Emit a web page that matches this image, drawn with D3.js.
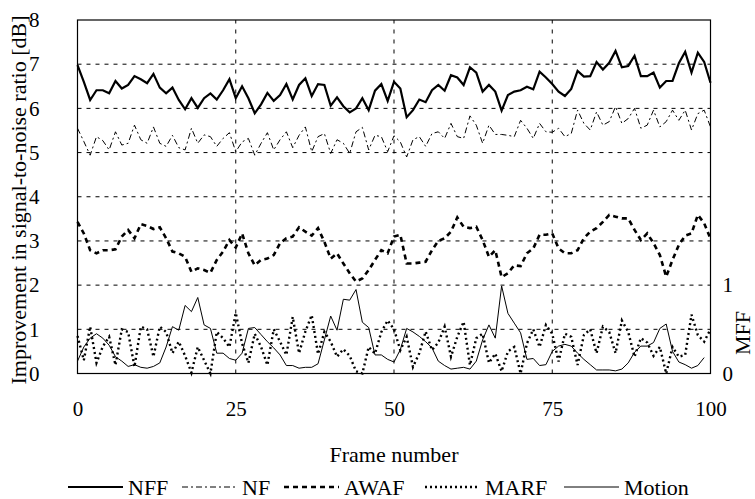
<!DOCTYPE html>
<html>
<head>
<meta charset="utf-8">
<script src="https://cdn.jsdelivr.net/npm/d3@7"></script>
<style>
  body { margin: 0; background: #fff; }
  svg, svg text { font-family: 'Liberation Serif', 'Times New Roman', Times, serif; }
</style>
</head>
<body>
<svg id="chart" width="755" height="499"></svg>
<script>
// values, one per frame (0..100)
const nff = [6.98, 6.60, 6.19, 6.41, 6.41, 6.34, 6.62, 6.45, 6.53, 6.73,
  6.66, 6.57, 6.78, 6.47, 6.34, 6.47, 6.19, 5.98, 6.23, 6.01,
  6.23, 6.34, 6.20, 6.41, 6.66, 6.23, 6.50, 6.23, 5.89, 6.09,
  6.35, 6.17, 6.30, 6.55, 6.20, 6.53, 6.68, 6.28, 6.55, 6.53,
  6.06, 6.25, 6.05, 5.91, 6.00, 6.23, 5.96, 6.40, 6.55, 6.17,
  6.60, 6.45, 5.80, 5.96, 6.20, 6.14, 6.41, 6.53, 6.40, 6.75,
  6.70, 6.53, 6.93, 6.81, 6.38, 6.53, 6.38, 5.95, 6.30, 6.38,
  6.41, 6.49, 6.43, 6.83, 6.70, 6.55, 6.38, 6.28, 6.44, 6.85,
  6.72, 6.73, 7.05, 6.88, 7.03, 7.30, 6.93, 6.96, 7.19, 6.73,
  6.73, 6.81, 6.47, 6.62, 6.62, 7.02, 7.28, 6.81, 7.26, 7.05, 6.58];

const nf = [5.55, 5.25, 4.94, 5.36, 5.27, 5.06, 5.47, 5.17, 5.21, 5.62,
  5.29, 5.21, 5.58, 5.21, 5.14, 5.39, 5.11, 5.06, 5.55, 5.21,
  5.40, 5.36, 5.14, 5.32, 5.45, 5.02, 5.24, 5.32, 4.94, 5.21,
  5.45, 5.06, 5.29, 5.47, 5.11, 5.39, 5.58, 5.02, 5.36, 5.43,
  4.98, 5.29, 5.21, 4.98, 5.47, 5.57, 5.06, 5.39, 5.36, 5.02,
  5.38, 5.24, 4.90, 5.29, 5.36, 5.14, 5.43, 5.47, 5.32, 5.66,
  5.36, 5.32, 5.83, 5.62, 5.21, 5.62, 5.41, 5.41, 5.39, 5.36,
  5.73, 5.55, 5.32, 5.66, 5.47, 5.46, 5.55, 5.36, 5.43, 5.96,
  5.66, 5.51, 5.92, 5.62, 5.70, 6.04, 5.66, 5.77, 6.00, 5.55,
  5.62, 5.96, 5.58, 5.70, 5.96, 5.73, 5.96, 5.51, 5.88, 5.96, 5.58];

const awaf = [3.43, 3.17, 2.79, 2.72, 2.79, 2.79, 2.81, 3.10, 3.25, 3.06,
  3.38, 3.34, 3.27, 3.31, 3.06, 2.76, 2.72, 2.64, 2.30, 2.38,
  2.34, 2.28, 2.57, 2.76, 3.02, 2.85, 3.17, 2.72, 2.45, 2.57,
  2.60, 2.68, 2.95, 3.06, 3.10, 3.31, 3.21, 3.12, 3.29, 2.98,
  2.60, 2.72, 2.49, 2.27, 2.08, 2.15, 2.34, 2.57, 2.79, 2.72,
  3.10, 3.14, 2.49, 2.49, 2.51, 2.53, 2.79, 3.00, 3.06, 3.21,
  3.53, 3.32, 3.29, 3.32, 3.02, 2.64, 2.79, 2.18, 2.27, 2.45,
  2.43, 2.72, 2.83, 3.14, 3.14, 3.17, 2.83, 2.72, 2.72, 2.79,
  3.06, 3.21, 3.29, 3.43, 3.59, 3.55, 3.51, 3.51, 3.25, 3.02,
  3.17, 2.95, 2.68, 2.19, 2.57, 2.91, 3.12, 3.17, 3.59, 3.40, 3.05];

const marf = [0.85, 0.30, 1.06, 0.24, 0.61, 0.83, 0.19, 1.00, 0.94, 0.15,
  1.06, 1.00, 0.38, 1.06, 0.94, 0.46, 0.72, 0.40, 0.02, 0.60,
  0.30, 0.00, 0.94, 0.80, 0.60, 1.37, 0.68, 0.24, 0.90, 0.60,
  0.19, 1.00, 0.72, 0.42, 1.28, 0.46, 0.95, 1.32, 0.44, 0.94,
  0.72, 0.38, 0.55, 0.40, 0.05, 0.00, 0.60, 0.45, 0.94, 1.20,
  1.00, 0.53, 0.83, 0.15, 0.46, 0.95, 0.53, 0.70, 1.06, 0.38,
  0.83, 1.17, 0.19, 0.80, 0.90, 0.24, 0.45, 0.05, 0.50, 0.60,
  0.00, 0.68, 1.00, 0.60, 1.10, 0.90, 0.27, 0.90, 0.83, 0.19,
  0.87, 1.00, 0.46, 1.06, 0.94, 0.46, 1.20, 0.94, 0.38, 0.80,
  0.70, 0.40, 0.60, 0.00, 0.60, 0.38, 0.42, 1.33, 0.87, 0.72, 1.00];

// motion on the right axis (MFF)
const motion = [0.14, 0.30, 0.40, 0.45, 0.40, 0.32, 0.19, 0.14, 0.08, 0.10,
  0.07, 0.06, 0.08, 0.12, 0.30, 0.53, 0.49, 0.77, 0.70, 0.86,
  0.55, 0.51, 0.23, 0.23, 0.17, 0.15, 0.23, 0.51, 0.52, 0.44,
  0.36, 0.29, 0.21, 0.09, 0.09, 0.06, 0.07, 0.07, 0.11, 0.38,
  0.65, 0.49, 0.84, 0.83, 0.95, 0.58, 0.52, 0.21, 0.21, 0.16,
  0.13, 0.27, 0.51, 0.47, 0.42, 0.36, 0.29, 0.14, 0.09, 0.05,
  0.06, 0.07, 0.05, 0.14, 0.38, 0.55, 0.40, 0.99, 0.68, 0.57,
  0.46, 0.16, 0.17, 0.09, 0.10, 0.25, 0.31, 0.33, 0.31, 0.23,
  0.16, 0.10, 0.04, 0.04, 0.04, 0.03, 0.05, 0.12, 0.24, 0.31,
  0.31, 0.35, 0.51, 0.56, 0.25, 0.13, 0.10, 0.06, 0.09, 0.18];

const xTicks = [0, 25, 50, 75, 100];
const yTicks = [0, 1, 2, 3, 4, 5, 6, 7, 8];
const rTicks = [0, 1];

const series = [
  { name: "NFF", values: nff, axis: "left", width: 2.2, dash: null },
  { name: "NF", values: nf, axis: "left", width: 1, dash: "6,3,2,3" },
  { name: "AWAF", values: awaf, axis: "left", width: 2.6, dash: "5,4" },
  { name: "MARF", values: marf, axis: "left", width: 2.4, dash: "2,3" },
  { name: "Motion", values: motion, axis: "right", width: 1, dash: null }
];

const svg = d3.select("#chart");
const x = d3.scaleLinear().domain([0, 100]).range([77.5, 710.5]);
const y = d3.scaleLinear().domain([0, 8]).range([373.5, 20]);
const yR = d3.scaleLinear().domain([0, 4]).range([373.5, 20]);

// grid
svg.append("g").selectAll("line").data(yTicks.slice(1, -1)).join("line")
  .attr("x1", x(0)).attr("x2", x(100))
  .attr("y1", d => y(d)).attr("y2", d => y(d))
  .attr("stroke", "#000").attr("stroke-width", 1).attr("stroke-dasharray", "4,5");
svg.append("g").selectAll("line").data(xTicks.slice(1, -1)).join("line")
  .attr("y1", y(0)).attr("y2", y(8))
  .attr("x1", d => x(d)).attr("x2", d => x(d))
  .attr("stroke", "#000").attr("stroke-width", 1).attr("stroke-dasharray", "4,6");

// lines
const plot = svg.append("g");
series.forEach(s => {
  const sc = s.axis === "right" ? yR : y;
  const line = d3.line().x((d, i) => x(i)).y(d => sc(d));
  plot.append("path").datum(s.values)
    .attr("d", line)
    .attr("fill", "none")
    .attr("stroke", "#000")
    .attr("stroke-width", s.width)
    .attr("stroke-dasharray", s.dash);
});

// frame
svg.append("rect")
  .attr("x", x(0)).attr("y", y(8))
  .attr("width", x(100) - x(0)).attr("height", y(0) - y(8))
  .attr("fill", "none").attr("stroke", "#000").attr("stroke-width", 1.2);

// axes (d3 sets sans-serif on the group, so drop it and let css apply)
function styleAxis(g) {
  g.select(".domain").remove();
  g.attr("font-family", null).attr("font-size", 21);
  g.selectAll("text").attr("fill", "#000");
}

svg.append("g").attr("transform", `translate(0,${y(0)})`)
  .call(d3.axisBottom(x).tickValues(xTicks).tickSize(0).tickPadding(28))
  .call(styleAxis);

svg.append("g").attr("transform", `translate(${x(0)},0)`)
  .call(d3.axisLeft(y).tickValues(yTicks).tickSize(0).tickPadding(38))
  .call(styleAxis);

svg.append("g").attr("transform", `translate(${x(100)},0)`)
  .call(d3.axisRight(yR).tickValues(rTicks).tickFormat(d3.format("d")).tickSize(0).tickPadding(12))
  .call(styleAxis);

// titles
svg.append("text")
  .attr("transform", "translate(26,200) rotate(-90)")
  .attr("text-anchor", "middle").attr("font-size", 22)
  .text("Improvement in signal-to-noise ratio [dB]");
svg.append("text")
  .attr("transform", "translate(750,333) rotate(-90)")
  .attr("text-anchor", "middle").attr("font-size", 22)
  .text("MFF");
svg.append("text")
  .attr("x", x(50)).attr("y", 462)
  .attr("text-anchor", "middle").attr("font-size", 22)
  .text("Frame number");

// legend
const legendX = [68, 182, 284, 425, 564];
const legend = svg.append("g").attr("font-size", 22);
series.forEach((s, i) => {
  const g = legend.append("g").attr("transform", `translate(${legendX[i]},487)`);
  g.append("line").attr("x1", 0).attr("x2", 55).attr("y1", 0).attr("y2", 0)
    .attr("stroke", "#000").attr("stroke-width", s.width)
    .attr("stroke-dasharray", s.dash);
  g.append("text").attr("x", 60).attr("y", 8).text(s.name);
});
</script>
</body>
</html>
